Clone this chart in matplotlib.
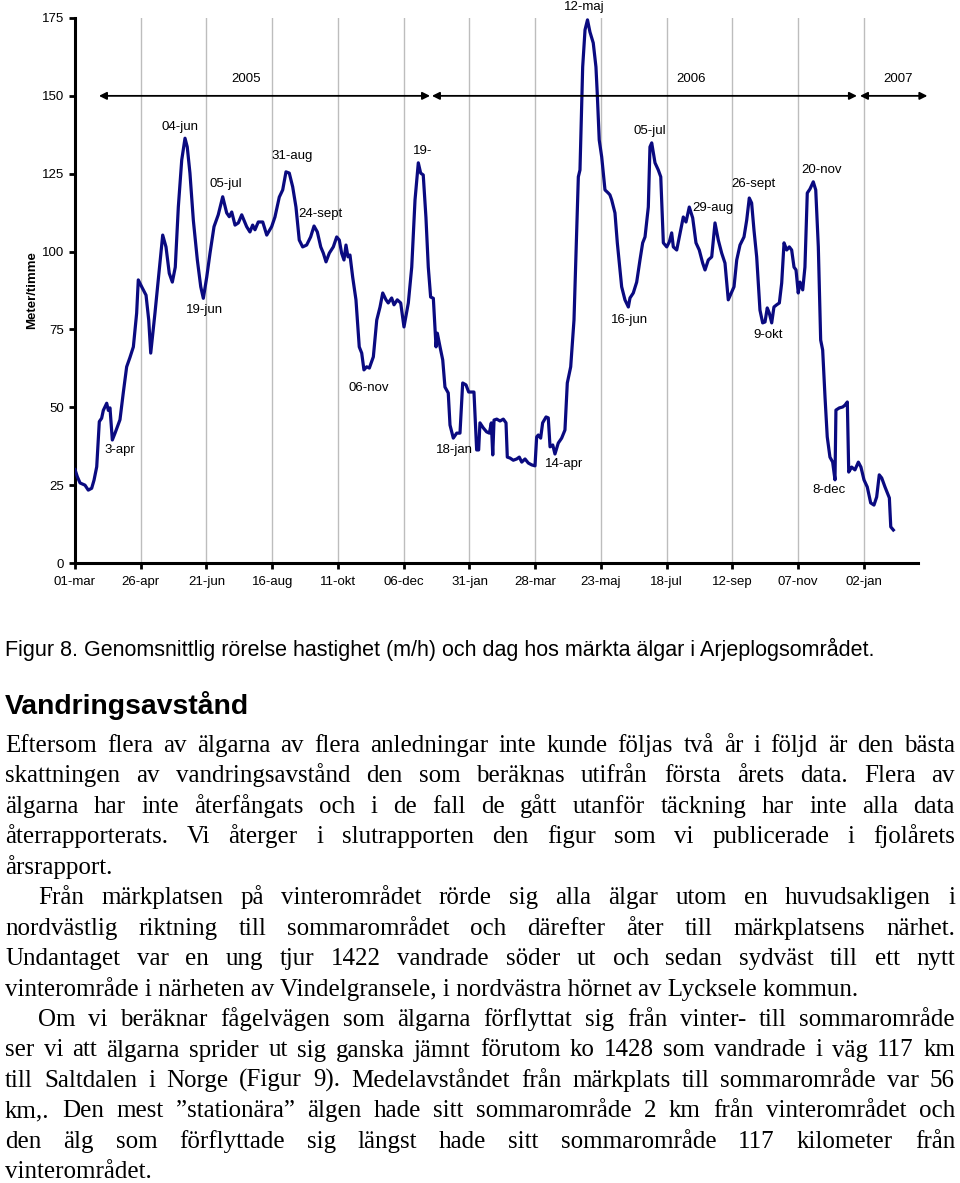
import matplotlib
matplotlib.use("Agg")
import matplotlib.pyplot as plt
from matplotlib import font_manager as fm
from matplotlib.font_manager import FontProperties

# ---------------- data (days since 01-mar-2005, speed in meter/timme) ----------------
days = [0, 2.0, 4.3, 8.5, 11.3, 14.2, 16.2, 18.5, 20.7, 22.7, 24.1, 27.0, 28.4, 29.8, 31.8, 34.1,
        38.3, 41.1, 44.0, 46.8, 49.7, 52.5, 53.9, 56.8, 60.5, 62.8, 64.5, 68.1, 70.9, 74.7, 77.5,
        80.3, 82.9, 85.4, 88.0, 90.9, 93.7, 95.6, 97.9, 100.8, 104.2, 107.1, 109.3, 112.2, 115.0,
        118.4, 122.0, 125.8, 129.2, 131.4, 133.5, 136.3, 139.1, 142.0, 146.2, 149.0, 151.3, 153.3,
        156.1, 159.9, 163.3, 167.5, 170.3, 174.0, 176.9, 179.7, 182.5, 185.4, 188.2, 191.0, 193.9,
        197.3, 200.7, 203.6, 206.4, 209.3, 211.5, 213.8, 216.6, 220.0, 222.9, 225.1, 227.1, 229.1,
        230.8, 232.5, 234.2, 236.5, 239.3, 242.1, 244.2, 246.1, 248.4, 250.7, 254.1, 257.0, 259.8,
        262.1, 264.9, 266.8, 269.7, 271.7, 274.5, 277.4, 280.2, 283.9, 286.8, 289.6, 292.4, 294.4,
        296.6, 298.9, 300.9, 302.9, 305.2, 307.5, 308.6, 310.9, 313.2, 315.1, 317.9, 319.4, 322.2,
        325.1, 327.9, 330.2, 333.0, 335.3, 339.8, 342.1, 343.8, 344.9, 347.7, 350.6, 352.9, 354.6,
        355.8, 356.9, 359.2, 362.0, 364.8, 367.1, 368.2, 370.5, 373.3, 376.2, 378.4, 380.5, 383.3,
        386.1, 389.0, 391.8, 393.2, 394.6, 396.6, 398.3, 401.2, 403.1, 404.6, 406.9, 408.8, 411.6,
        414.5, 417.3, 419.3, 422.2, 425.0, 428.7, 430.1, 432.4, 434.4, 436.5, 438.6, 441.4, 443.7,
        444.8, 446.5, 448.6, 451.4, 454.2, 455.6, 457.1, 459.9, 461.9, 465.6, 468.4, 471.3, 472.7,
        475.5, 478.4, 481.2, 483.5, 485.5, 488.3, 489.7, 491.2, 494.0, 496.8, 498.9, 501.1, 504.0,
        506.2, 508.2, 509.6, 512.5, 514.7, 518.1, 520.4, 523.2, 526.1, 528.9, 531.7, 534.6, 536.6,
        539.4, 542.3, 545.1, 547.9, 550.8, 553.6, 556.4, 559.3, 561.3, 563.6, 566.4, 569.8, 572.1,
        574.3, 576.3, 578.3, 580.6, 583.4, 585.7, 587.7, 589.6, 591.3, 593.4, 595.3, 597.6, 599.9,
        601.9, 603.9, 606.2, 608.4, 610.4, 612.4, 614.1, 616.0, 617.5, 619.8, 621.7, 623.7, 626.0,
        628.8, 630.9, 633.1, 635.1, 636.8, 638.8, 640.7, 643.0, 645.3, 647.3, 648.1, 651.0, 653.9,
        655.8, 657.8, 659.0, 661.5, 664.3, 667.2, 669.4, 672.0, 674.8, 677.7, 680.5, 682.8, 685.0,
        687.1, 689.9, 693.6, 694.8, 697.0]
speed = [30, 27.7, 25.7, 25, 23.4, 24, 26.6, 30.9, 45.4, 46.5, 49, 51.3, 49, 49.8, 39.5, 41.7,
         46, 54.6, 63, 66, 69.4, 80.2, 90.9, 88.7, 86, 78, 67.4, 80.2, 90.9, 105.3, 101.5,
         93, 90.2, 95, 114.3, 129.4, 136.4, 133.6, 125.2, 110, 97.3, 88.7, 85, 91.8, 99.5,
         108, 111.8, 117.6, 112.4, 111.2, 112.7, 108.5, 109.2, 111.8, 108, 106.3, 108.5, 107,
         109.5, 109.5, 105.3, 108, 111.1, 117.5, 119.8, 125.6, 125.2, 120.8, 114.3, 103.7, 101.5,
         102.1, 104.7, 108.2, 106.3, 101.5, 99.5, 96.7, 99.5, 101.5, 104.7, 103.7, 99.5, 97.3,
         102.1, 98.3, 98.9, 91.8, 84.5, 69.4, 67.4, 62, 63, 62.6, 66.2, 78, 82.2,
         86.7, 84.5, 83.5, 85.1, 82.9, 84.5, 83.5, 75.8, 83.5, 95, 116.6, 128.5, 125.2,
         124.6, 111, 95, 85.4, 85, 69.4, 73.8, 69.4, 65.2, 56.5, 54.6, 44.3, 40.1,
         41.7, 41.7, 57.8, 57.2, 54.9, 54.9, 36.3, 36.3, 45, 43.4, 42.1, 41.7, 45,
         34.7, 45.9, 46.2, 45.6, 46.2, 45, 34, 33.7, 33, 33.4, 34, 32.4, 33.4,
         32.1, 31.5, 31.2, 40.5, 41.1, 40.1, 45, 46.9, 46.6, 37.3, 37.9, 35, 38.5,
         40.1, 42.7, 57.8, 63, 78, 124, 126.2, 159.3, 171.2, 174.4, 170.5, 167, 159.3,
         150.9, 135.8, 130.4, 119.8, 118.8, 118.2, 116.6, 112.4, 102.8, 88.7, 84.5, 82.2, 85.1,
         86.7, 90.2, 97.3, 102.8, 104.7, 114.3, 133.6, 134.9, 128.5, 126.2, 124, 102.8, 101.5,
         103.1, 106, 101.5, 100.5, 104.7, 111.1, 109.5, 114.3, 110.8, 102.8, 100.5, 96.3, 94.1,
         97.3, 98.3, 109.2, 103.7, 99.5, 96.3, 84.5, 87, 88.7, 97.3, 102.1, 104.7, 110.1,
         117.2, 115.6, 106.9, 98.3, 81.2, 77.1, 77.4, 81.9, 80.3, 77.1, 82.2, 82.9, 83.5,
         89.9, 102.8, 100.5, 101.5, 100.5, 95, 94.1, 86.7, 90.2, 87.7, 95, 118.8, 120.1,
         122.4, 119.8, 101.5, 71.6, 68.4, 53.3, 40.5, 34, 32.4, 26.7, 49.1, 49.8, 50.1,
         50.7, 51.7, 29.2, 30.8, 29.9, 32.4, 30.8, 26.7, 24.4, 19.3, 18.6, 21.2, 28.3,
         27.3, 24.4, 20.9, 11.6, 10.6]

tick_days = [0, 56, 112, 168, 224, 280, 336, 392, 448, 504, 560, 616, 672]
tick_labels = ["01-mar", "26-apr", "21-jun", "16-aug", "11-okt", "06-dec", "31-jan",
               "28-mar", "23-maj", "18-jul", "12-sep", "07-nov", "02-jan"]
y_ticks = [0, 25, 50, 75, 100, 125, 150, 175]

# annotations: (label, day, value)
notes = [("12-maj", 433.5, 178.4), ("04-jun", 89.4, 140.0), ("05-jul", 128.6, 121.7),
         ("31-aug", 184.8, 130.7), ("24-sept", 208.7, 112.0), ("19-", 296.4, 132.3),
         ("05-jul", 489.7, 138.7), ("26-sept", 577.5, 121.7), ("29-aug", 543.4, 114.0),
         ("20-nov", 636.2, 126.2), ("19-jun", 110.7, 81.2), ("16-jun", 472.7, 78.0),
         ("9-okt", 590.2, 73.2), ("06-nov", 250.4, 56.2), ("3-apr", 38.3, 36.3),
         ("18-jan", 323.6, 36.3), ("14-apr", 416.5, 31.8), ("8-dec", 642.2, 23.4)]
years = [("2005", 20.4, 302.4, 145.6), ("2006", 304.0, 666.0, 524.6), ("2007", 668.6, 726.0, 701.0)]

caption = "Figur 8. Genomsnittlig rörelse hastighet (m/h) och dag hos märkta älgar i Arjeplogsområdet."
heading = "Vandringsavstånd"
body_lines = [
    ("Eftersom flera av älgarna av flera anledningar inte kunde följas två år i följd är den bästa", 0, True),
    ("skattningen av vandringsavstånd den som beräknas utifrån första årets data. Flera av", 0, True),
    ("älgarna har inte återfångats och i de fall de gått utanför täckning har inte alla data", 0, True),
    ("återrapporterats. Vi återger i slutrapporten den figur som vi publicerade i fjolårets", 0, True),
    ("årsrapport.", 0, False),
    ("Från märkplatsen på vinterområdet rörde sig alla älgar utom en huvudsakligen i", 1, True),
    ("nordvästlig riktning till sommarområdet och därefter åter till märkplatsens närhet.", 0, True),
    ("Undantaget var en ung tjur 1422 vandrade söder ut och sedan sydväst till ett nytt", 0, True),
    ("vinterområde i närheten av Vindelgransele, i nordvästra hörnet av Lycksele kommun.", 0, False),
    ("Om vi beräknar fågelvägen som älgarna förflyttat sig från vinter- till sommarområde", 1, True),
    ("ser vi att älgarna sprider ut sig ganska jämnt förutom ko 1428 som vandrade i väg 117 km", 0, True),
    ("till Saltdalen i Norge (Figur 9). Medelavståndet från märkplats till sommarområde var 56", 0, True),
    ("km,. Den mest ”stationära” älgen hade sitt sommarområde 2 km från vinterområdet och", 0, True),
    ("den älg som förflyttade sig längst hade sitt sommarområde 117 kilometer från", 0, True),
    ("vinterområdet.", 0, False),
]

# ---------------- figure ----------------
W, H = 960, 1183
fig = plt.figure(figsize=(W / 100, H / 100), dpi=100)
plt.rcParams['font.family'] = ['Liberation Sans', 'DejaVu Sans']

ax = fig.add_axes([75 / W, 1 - 563 / H, (918 - 75) / W, (563 - 18) / H])
ax.set_xlim(0, 718)
ax.set_ylim(0, 175)
for t in tick_days[1:]:
    ax.axvline(t, color='#bdbdbd', lw=1.0, zorder=1)
ax.plot(days, speed, color='#0a0a80', lw=2.3, zorder=3, solid_joinstyle='round')

for s in ['top', 'right']:
    ax.spines[s].set_visible(False)
for s in ['left', 'bottom']:
    ax.spines[s].set_linewidth(2.2)
    ax.spines[s].set_color('black')
ax.set_xticks(tick_days)
ax.set_xticklabels(tick_labels)
ax.set_yticks(y_ticks)
ax.tick_params(axis='both', labelsize=9.5, width=2, length=4, direction='out', colors='black')
ax.tick_params(axis='x', pad=5)
ax.tick_params(axis='y', pad=4)
ax.set_ylabel("Meter/timme", fontsize=9.5, fontweight='bold')
ax.yaxis.set_label_coords(-0.044, 0.5)

for lab, x, y in notes:
    ax.text(x, y, lab, fontsize=9.5, ha='center', va='center', clip_on=False, zorder=4)
for lab, x0, x1, xc in years:
    ax.annotate('', xy=(x1, 150), xytext=(x0, 150),
                arrowprops=dict(arrowstyle='<|-|>', color='black', lw=1.3,
                                mutation_scale=11, shrinkA=0, shrinkB=0),
                annotation_clip=False, zorder=4)
    ax.text(xc, 155.4, lab, fontsize=9.5, ha='center', va='center', clip_on=False)

# ---------------- text below the chart ----------------
fig.canvas.draw()
renderer = fig.canvas.get_renderer()
names = {f.name for f in fm.fontManager.ttflist}
sans_name = 'Liberation Sans Narrow' if 'Liberation Sans Narrow' in names else 'Liberation Sans'


def width_px(s, fp):
    w, h, d = renderer.get_text_width_height_descent(s, fp, ismath=False)
    return w


def fit_size(s, family, weight, target, smax):
    fp = FontProperties(family=family, weight=weight, size=10)
    w = width_px(s, fp)
    return min(smax, 10 * target / w)


cap_size = fit_size(caption, sans_name, 'normal', 875, 15.5)
fig.text(5 / W, 1 - 656 / H, caption, fontsize=cap_size, family=sans_name,
         ha='left', va='baseline')
head_size = fit_size(heading, sans_name, 'bold', 245, 21)
fig.text(5 / W, 1 - 714 / H, heading, fontsize=head_size, family=sans_name,
         fontweight='bold', ha='left', va='baseline')

serif = 'Liberation Serif'
left, right, indent = 5, 955, 38
fp10 = FontProperties(family=serif, size=10)
body_size = 18
for line, ind, just in body_lines:
    x0 = indent if ind else left
    w = width_px(line, fp10)
    body_size = min(body_size, 10 * (right - x0 - 2) / w)
fp = FontProperties(family=serif, size=body_size)

baseline = 752
step = 30.45
for i, (line, ind, just) in enumerate(body_lines):
    y = baseline + i * step
    x0 = indent if ind else left
    if not just:
        fig.text(x0 / W, 1 - y / H, line, fontproperties=fp, ha='left', va='baseline')
        continue
    words = line.split(' ')
    ws = [width_px(wd, fp) for wd in words]
    gap = (right - x0 - sum(ws)) / (len(words) - 1)
    x = x0
    for wd, wv in zip(words, ws):
        fig.text(x / W, 1 - y / H, wd, fontproperties=fp, ha='left', va='baseline')
        x += wv + gap

fig.savefig("out.png", dpi=100)
